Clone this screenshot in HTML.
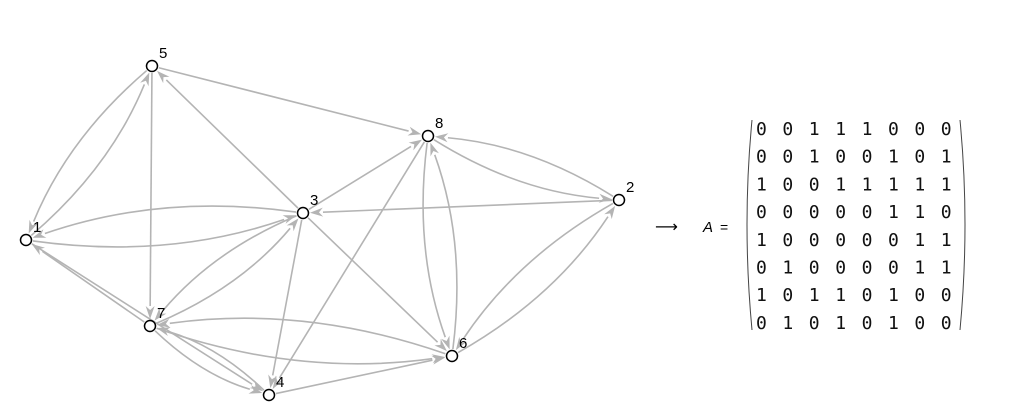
<!DOCTYPE html>
<html><head><meta charset="utf-8"><style>
html,body{margin:0;padding:0;background:#fff;}
svg{display:block}
</style></head><body>
<svg id="s" width="1023" height="412" viewBox="0 0 1023 412" xmlns="http://www.w3.org/2000/svg">
<g id="edges"></g><g id="nodes"></g>
<text x="655" y="232" font-family="DejaVu Sans, sans-serif" font-size="16">⟶</text>
<text x="703" y="232" font-family="Liberation Sans, sans-serif" font-style="italic" font-size="15">A</text>
<text x="720" y="232" font-family="Liberation Sans, sans-serif" font-size="14">=</text>
<path d="M752 120 Q742 224 752 330" fill="none" stroke="#444" stroke-width="1"/>
<path d="M960 120 Q970 224 960 330" fill="none" stroke="#444" stroke-width="1"/>
<g id="mat" font-family="DejaVu Sans Mono, Liberation Mono, monospace" font-size="18" fill="#111"></g>
</svg>
<script>
var P={1:[26,240],2:[619,200],3:[303,213],4:[269,395],5:[152,66],6:[452,356],7:[150,326],8:[428,136]};
var M=["00111000","00100101","10011111","00000110","10000011","01000011","10110100","01010100"];
var ns="http://www.w3.org/2000/svg",E=document.getElementById("edges");
function el(t,a,p){var e=document.createElementNS(ns,t);for(var k in a)e.setAttribute(k,a[k]);p.appendChild(e);return e;}
for(var i=1;i<=8;i++)for(var j=1;j<=8;j++){if(M[i-1][j-1]!="1")continue;
 var a=P[i],b=P[j],bi=M[j-1][i-1]=="1";
 var dx=b[0]-a[0],dy=b[1]-a[1],L=Math.hypot(dx,dy),nx=-dy/L,ny=dx/L;
 var off=bi?0.12*L:0;
 var c=[(a[0]+b[0])/2+nx*off,(a[1]+b[1])/2+ny*off];
 var sx=c[0]-a[0],sy=c[1]-a[1],sl=Math.hypot(sx,sy);var s=[a[0]+sx/sl*7,a[1]+sy/sl*7];
 var ex=b[0]-c[0],ey=b[1]-c[1],el_=Math.hypot(ex,ey);ex/=el_;ey/=el_;
 var t=[b[0]-ex*7,b[1]-ey*7];var base=[t[0]-ex*13,t[1]-ey*13];
 el("path",{d:"M"+s[0]+" "+s[1]+" Q"+c[0]+" "+c[1]+" "+base[0]+" "+base[1],fill:"none",stroke:"#b4b4b4","stroke-width":1.6},E);
 var px=-ey,py=ex;
 el("path",{d:"M"+t[0]+" "+t[1]+" L"+(base[0]+px*4.5)+" "+(base[1]+py*4.5)+" L"+(t[0]-ex*9)+" "+(t[1]-ey*9)+" L"+(base[0]-px*4.5)+" "+(base[1]-py*4.5)+"Z",fill:"#b4b4b4"},E);
}
var N=document.getElementById("nodes");
for(var k in P){el("circle",{cx:P[k][0],cy:P[k][1],r:5.5,fill:"#fff",stroke:"#000","stroke-width":1.5},N);
 var t=el("text",{x:P[k][0]+7,y:P[k][1]-8,"font-family":"Liberation Sans, sans-serif","font-size":15},N);t.textContent=k;}
var G=document.getElementById("mat");
for(var r=0;r<8;r++)for(var c2=0;c2<8;c2++){var t=el("text",{x:762+c2*26.4-6,y:135+r*27.7},G);t.textContent=M[r][c2];}
</script>
</body></html>
